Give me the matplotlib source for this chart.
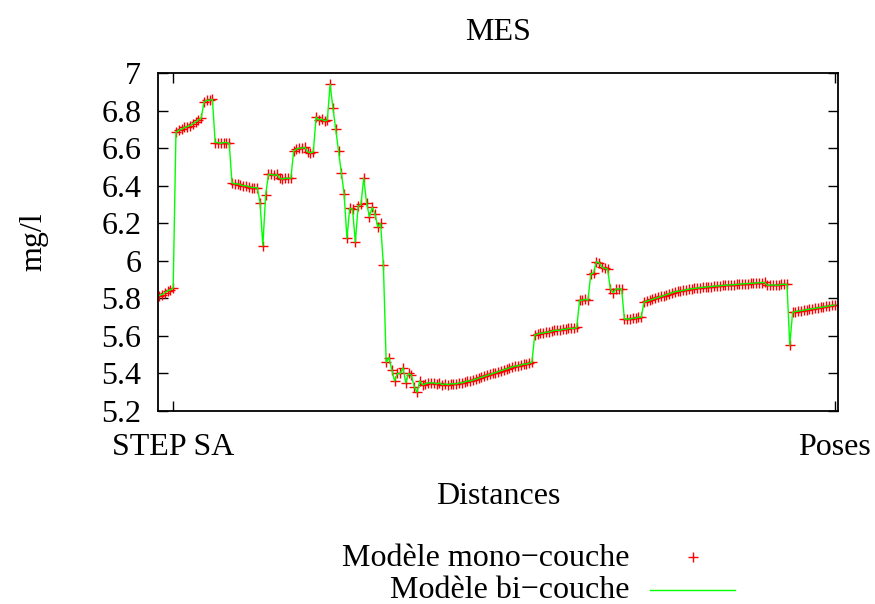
import numpy as np
import matplotlib
matplotlib.use('Agg')
import matplotlib.pyplot as plt
from matplotlib.lines import Line2D
from matplotlib.ticker import FormatStrFormatter

plt.rcParams['font.family'] = ['Liberation Serif', 'DejaVu Serif']

# MES concentration (mg/l) at each section, from STEP SA down to Poses
mes_mono = [
    5.815, 5.82, 5.83, 5.84, 5.845, 5.855,
    6.685, 6.695, 6.70, 6.71, 6.715, 6.72, 6.73, 6.74, 6.75, 6.76,
    6.845, 6.855, 6.855, 6.86,
    6.63, 6.63, 6.625, 6.63, 6.63, 6.625,
    6.415, 6.41, 6.41, 6.405, 6.40, 6.40, 6.395, 6.39, 6.39, 6.39,
    6.31, 6.08, 6.35,
    6.46, 6.46, 6.455, 6.46,
    6.44, 6.435, 6.44, 6.44, 6.44,
    6.585, 6.595, 6.60, 6.60, 6.605,
    6.58, 6.575, 6.58,
    6.765, 6.75, 6.755, 6.745, 6.75,
    6.94, 6.815, 6.70, 6.585, 6.47, 6.355, 6.12, 6.28, 6.275, 6.10,
    6.29, 6.30, 6.44, 6.31, 6.235, 6.285, 6.25, 6.18, 6.20, 5.98,
    5.46, 5.485, 5.42, 5.36, 5.40, 5.40, 5.43, 5.35, 5.40, 5.39,
    5.33, 5.30, 5.36, 5.34,
    5.345, 5.35, 5.35, 5.35, 5.345, 5.35, 5.34, 5.345, 5.34, 5.345,
    5.345, 5.345, 5.35, 5.35,
    5.355, 5.36, 5.36, 5.365, 5.37, 5.375, 5.38, 5.385, 5.39, 5.395,
    5.40, 5.405, 5.41, 5.415, 5.42, 5.425, 5.43, 5.435, 5.44, 5.44,
    5.445, 5.45, 5.45, 5.455, 5.46,
    5.605, 5.61, 5.615, 5.615, 5.62, 5.62, 5.625, 5.63, 5.63, 5.63,
    5.635, 5.635, 5.64, 5.64, 5.64, 5.645,
    5.79, 5.79, 5.795, 5.79,
    5.93, 5.935,
    5.995, 5.99,
    5.965, 5.96, 5.955,
    5.85, 5.83, 5.85, 5.85, 5.85,
    5.69, 5.69, 5.69, 5.695, 5.695, 5.70, 5.70,
    5.78, 5.785, 5.79, 5.795, 5.80, 5.805, 5.81, 5.815, 5.82, 5.825,
    5.83, 5.835, 5.838, 5.84, 5.843, 5.846, 5.849, 5.851, 5.853, 5.855,
    5.857, 5.859, 5.86, 5.862, 5.863, 5.865, 5.866, 5.867, 5.869, 5.87,
    5.871, 5.872, 5.873, 5.874, 5.876, 5.877, 5.878, 5.879, 5.88, 5.881,
    5.882, 5.883, 5.884, 5.885,
    5.87, 5.87, 5.872, 5.87, 5.87, 5.875, 5.875, 5.875,
    5.55,
    5.725, 5.73, 5.732, 5.735, 5.737, 5.74, 5.742, 5.745, 5.747, 5.75,
    5.752, 5.755, 5.757, 5.76, 5.762, 5.765,
]
# the two-layer model follows the single-layer one almost exactly
mes_bi = list(mes_mono)

section = np.arange(len(mes_mono))
xtick_pos = [section[5], section[-1]]
xtick_labels = ['STEP SA', 'Poses']
yticks = [5.2, 5.4, 5.6, 5.8, 6.0, 6.2, 6.4, 6.6, 6.8, 7.0]

fs = 23

fig = plt.figure(figsize=(8.75, 6.04), dpi=100)
ax = fig.add_axes([0.1806, 0.3195, 0.7771, 0.5596])

ax.plot(section, mes_mono, linestyle='none', marker='+', color='#ff0000',
        markersize=7, markeredgewidth=1.0)
ax.plot(section, mes_bi, color='#00ff00', linewidth=1.0)

ax.set_xlim(-0.4, section[-1] + 1.2)
ax.set_ylim(5.2, 7.0)
ax.set_xticks(xtick_pos)
ax.set_xticklabels(xtick_labels)
ax.set_yticks(yticks)
ax.yaxis.set_major_formatter(FormatStrFormatter('%g'))
ax.tick_params(direction='in', top=True, right=True, length=7, width=1,
               labelsize=fs, pad=12)
ax.tick_params(axis='x', pad=16)
for s in ax.spines.values():
    s.set_linewidth(1.3)

ax.set_title('MES', fontsize=fs, pad=24)
ax.set_xlabel('Distances', fontsize=fs, labelpad=14)
ax.set_ylabel('mg/l', fontsize=fs, labelpad=38)

# key drawn by hand so the labels stay right-aligned
fig.text(630 / 875, 1 - 558 / 604, 'Modèle mono−couche', fontsize=fs,
         ha='right', va='center')
fig.text(630 / 875, 1 - 591 / 604, 'Modèle bi−couche', fontsize=fs,
         ha='right', va='center')
fig.add_artist(Line2D([693 / 875], [1 - 557 / 604], linestyle='none',
                      marker='+', color='#ff0000', markersize=7,
                      markeredgewidth=1.0, transform=fig.transFigure))
fig.add_artist(Line2D([650 / 875, 735 / 875], [1 - 590 / 604] * 2,
                      color='#00ff00', linewidth=1.0,
                      transform=fig.transFigure))

fig.savefig('out.png', dpi=100)
